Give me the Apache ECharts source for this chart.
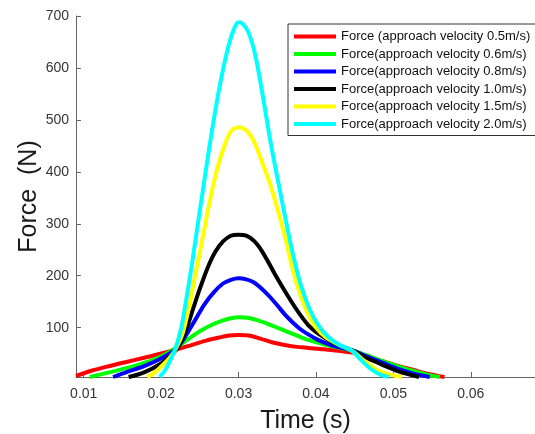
<!DOCTYPE html>
<html>
<head>
<meta charset="utf-8">
<script src="https://cdn.jsdelivr.net/npm/echarts@6/dist/echarts.min.js"></script>
<style>html,body{margin:0;padding:0;background:#fff}#c{width:535px;height:434px}</style>
</head>
<body>
<div id="c"></div>
<script>
// ---- data (time in s, force in N) ----
const seriesNames = [
  "Force (approach velocity 0.5m/s)",
  "Force(approach velocity 0.6m/s)",
  "Force(approach velocity 0.8m/s)",
  "Force(approach velocity 1.0m/s)",
  "Force(approach velocity 1.5m/s)",
  "Force(approach velocity 2.0m/s)"
];
const xTicks = [0.01, 0.02, 0.03, 0.04, 0.05, 0.06];
const yTicks = [100, 200, 300, 400, 500, 600, 700];

const v05 = [[0.0090,7],[0.0110,17],[0.0130,25],[0.0155,34],[0.0178,42],[0.0199,50],[0.0220,58],[0.0240,67],[0.0258,75],[0.0275,81],[0.0288,85],[0.0300,86],[0.0313,85],[0.0328,79],[0.0343,72],[0.0358,67],[0.0375,63],[0.0390,61],[0.0405,59],[0.0420,57],[0.0447,52],[0.0465,45],[0.0485,36],[0.0505,27],[0.0525,19],[0.0545,11],[0.0566,5]];
const v06 = [[0.0108,5],[0.0130,13],[0.0155,22],[0.0178,32],[0.0199,44],[0.0220,62],[0.0235,78],[0.0250,93],[0.0265,105],[0.0280,114],[0.0290,118],[0.0300,120],[0.0312,119],[0.0325,114],[0.0340,106],[0.0355,97],[0.0370,88],[0.0385,79],[0.0400,72],[0.0415,66],[0.0430,61],[0.0447,56],[0.0465,47],[0.0485,36],[0.0505,26],[0.0525,17],[0.0545,9],[0.0560,5]];
const v08 = [[0.0138,5],[0.0156,15],[0.0178,26],[0.0199,40],[0.0220,60],[0.0232,85],[0.0244,115],[0.0256,145],[0.0268,168],[0.0280,185],[0.0290,192],[0.0300,195],[0.0310,193],[0.0320,187],[0.0330,175],[0.0340,160],[0.0350,143],[0.0360,125],[0.0370,110],[0.0380,97],[0.0390,87],[0.0402,77],[0.0415,69],[0.0430,62],[0.0447,56],[0.0465,45],[0.0485,33],[0.0505,21],[0.0525,12],[0.0547,5]];
const v10 = [[0.0158,5],[0.0178,14],[0.0199,30],[0.0212,46],[0.0222,63],[0.0232,95],[0.0241,135],[0.0250,175],[0.0260,215],[0.0270,246],[0.0280,266],[0.0290,277],[0.0300,279],[0.0310,277],[0.0320,267],[0.0330,248],[0.0340,222],[0.0350,195],[0.0360,170],[0.0370,146],[0.0380,124],[0.0390,105],[0.0400,92],[0.0412,80],[0.0425,69],[0.0447,56],[0.0465,42],[0.0485,29],[0.0505,17],[0.0520,10],[0.0533,5]];
const v15 = [[0.0182,5],[0.0192,14],[0.0202,28],[0.0212,44],[0.0220,62],[0.0228,90],[0.0236,140],[0.0244,200],[0.0252,260],[0.0261,330],[0.0270,392],[0.0280,443],[0.0290,478],[0.0300,486],[0.0310,480],[0.0320,458],[0.0330,420],[0.0340,380],[0.0350,330],[0.0360,275],[0.0370,212],[0.0380,162],[0.0390,125],[0.0400,100],[0.0412,82],[0.0428,68],[0.0447,55],[0.0465,33],[0.0480,18],[0.0495,10],[0.0511,5]];
const v20 = [[0.0198,5],[0.0205,18],[0.0212,38],[0.0219,62],[0.0226,100],[0.0232,150],[0.0238,205],[0.0245,275],[0.0253,355],[0.0261,435],[0.0270,518],[0.0279,590],[0.0288,648],[0.0295,678],[0.0300,688],[0.0305,686],[0.0313,668],[0.0322,622],[0.0332,540],[0.0342,452],[0.0352,375],[0.0362,300],[0.0372,230],[0.0382,175],[0.0392,135],[0.0403,105],[0.0416,82],[0.0430,67],[0.0447,55],[0.0460,35],[0.0472,19],[0.0484,9],[0.0494,5]];

const seriesData = [v05, v06, v08, v10, v15, v20];
const colors = ["#ff0000", "#00ff00", "#0000ff", "#000000", "#ffff00", "#00ffff"];

const chart = echarts.init(document.getElementById('c'), null, {renderer: 'canvas'});
const font = "'Liberation Sans', Arial, Helvetica, sans-serif";
chart.setOption({
  animation: false,
  backgroundColor: '#ffffff',
  grid: {left: 76, top: 16, right: 0, bottom: 57, containLabel: false, outerBoundsMode: 'none'},
  legend: {
    orient: 'vertical', left: 288, top: 24,
    icon: 'rect', itemWidth: 42, itemHeight: 4, itemGap: 4.5,
    padding: [6, 8, 5, 6],
    borderColor: '#333', borderWidth: 1, backgroundColor: '#fff',
    textStyle: {fontFamily: font, fontSize: 13, color: '#111'},
    data: seriesNames
  },
  xAxis: {
    type: 'value', min: 0.009, max: 0.0683,
    name: 'Time (s)', nameLocation: 'middle', nameGap: 32, nameMoveOverlap: false,
    nameTextStyle: {fontFamily: font, fontSize: 25, color: '#1a1a1a'},
    splitLine: {show: false},
    axisLine: {show: true, lineStyle: {color: '#666', width: 1}},
    axisTick: {show: true, inside: true, length: 5, customValues: xTicks, lineStyle: {color: '#666'}},
    axisLabel: {customValues: xTicks, margin: 10, fontFamily: font, fontSize: 14, color: '#333',
      formatter: v => Number(v).toFixed(2)}
  },
  yAxis: {
    type: 'value', min: 5, max: 700,
    name: 'Force  (N)', nameLocation: 'middle', nameGap: 34, nameMoveOverlap: false,
    nameTextStyle: {fontFamily: font, fontSize: 25, color: '#1a1a1a'},
    splitLine: {show: false},
    axisLine: {show: true, lineStyle: {color: '#666', width: 1}},
    axisTick: {show: true, inside: true, length: 5, customValues: yTicks, lineStyle: {color: '#666'}},
    axisLabel: {customValues: yTicks, margin: 7, fontFamily: font, fontSize: 14, color: '#333'}
  },
  series: seriesData.map((d, i) => ({
    name: seriesNames[i], type: 'line', data: d, smooth: 0.3,
    showSymbol: false, symbol: 'none', color: colors[i],
    lineStyle: {width: 4, color: colors[i]}
  }))
});
</script>
</body>
</html>
